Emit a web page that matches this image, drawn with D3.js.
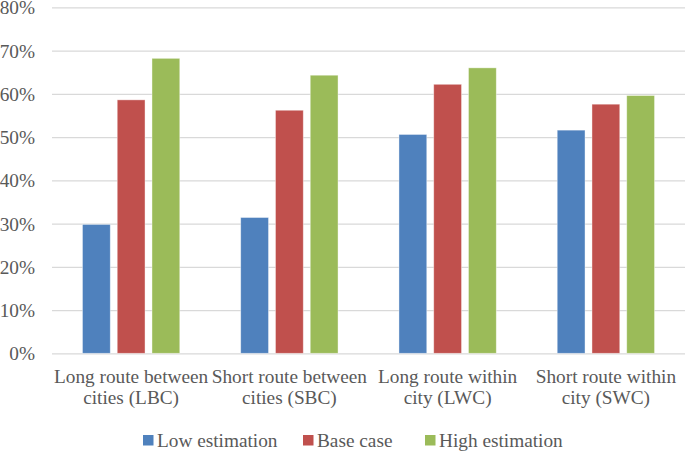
<!DOCTYPE html>
<html>
<head>
<meta charset="utf-8">
<script src="https://cdn.jsdelivr.net/npm/d3@7"></script>
<style>
  body { margin: 0; background: #fff; }
</style>
</head>
<body>
<div id="chart"></div>
<script>
// chart data
const categories = ['LBC', 'SBC', 'LWC', 'SWC'];
const categoryLines = [
  ['Long route between', 'cities (LBC)'],
  ['Short route between', 'cities (SBC)'],
  ['Long route within', 'city (LWC)'],
  ['Short route within', 'city (SWC)']
];
const seriesNames = ['Low estimation', 'Base case', 'High estimation'];
const lowValues = [0.298, 0.314, 0.506, 0.516];
const baseValues = [0.586, 0.562, 0.622, 0.576];
const highValues = [0.682, 0.643, 0.660, 0.596];
const yTicks = [0, 0.1, 0.2, 0.3, 0.4, 0.5, 0.6, 0.7, 0.8];
const colors = ['#4F81BD', '#C0504D', '#9BBB59'];

const width = 685, height = 451;
const margin = { top: 7.3, right: 0, bottom: 97.7, left: 52 };
const fontSize = '19.3px';

const svg = d3.select('#chart').append('svg')
  .attr('width', width)
  .attr('height', height);

const x = d3.scaleBand()
  .domain(categories)
  .range([margin.left, width - margin.right])
  .paddingInner(0.385)
  .paddingOuter(0.1925);

const xInner = d3.scaleBand()
  .domain(seriesNames)
  .range([0, x.bandwidth()])
  .paddingInner(0.2);

const y = d3.scaleLinear()
  .domain([0, 0.8])
  .range([height - margin.bottom, margin.top]);

// gridlines + y labels
const yAxis = d3.axisLeft(y)
  .tickValues(yTicks)
  .tickSize(-(width - margin.left - margin.right))
  .tickFormat(d3.format('.0%'));

const gy = svg.append('g')
  .attr('transform', `translate(${margin.left},0)`)
  .call(yAxis);
gy.select('.domain').remove();
gy.selectAll('.tick line').attr('stroke', '#d9d9d9').attr('stroke-width', 1.3);
gy.selectAll('.tick text')
  .attr('x', -17)
  .attr('dy', '0.34em')
  .attr('fill', '#595959')
  .style('font-family', 'Liberation Serif')
  .style('font-size', fontSize);

// bars
const allSeries = [lowValues, baseValues, highValues];
const rows = categories.map((c, i) => seriesNames.map((s, j) => ({ cat: c, series: s, value: allSeries[j][i], idx: j })));

const groups = svg.selectAll('g.group')
  .data(rows)
  .enter().append('g')
  .attr('class', 'group')
  .attr('transform', d => `translate(${x(d[0].cat)},0)`);

groups.selectAll('rect')
  .data(d => d)
  .enter().append('rect')
  .attr('x', d => xInner(d.series))
  .attr('width', xInner.bandwidth())
  .attr('y', d => y(d.value))
  .attr('height', d => y(0) - y(d.value))
  .attr('fill', d => colors[d.idx])
  .attr('stroke', '#ffffff')
  .attr('stroke-opacity', 0.5)
  .attr('stroke-width', 0.8);

// category labels
const xLabels = svg.selectAll('text.cat')
  .data(categories)
  .enter().append('text')
  .attr('class', 'cat')
  .attr('text-anchor', 'middle')
  .attr('fill', '#595959')
  .style('font-family', 'Liberation Serif')
  .style('font-size', fontSize)
  .attr('x', d => x(d) + x.bandwidth() / 2)
  .attr('y', 382.7);

xLabels.selectAll('tspan')
  .data((d, i) => categoryLines[i])
  .enter().append('tspan')
  .attr('x', function() { return d3.select(this.parentNode).attr('x'); })
  .attr('dy', (d, i) => i === 0 ? 0 : 21.5)
  .text(d => d);

// legend
const legendX = [143, 303, 425];
const legend = svg.selectAll('g.legend')
  .data(seriesNames)
  .enter().append('g')
  .attr('class', 'legend')
  .attr('transform', (d, i) => `translate(${legendX[i]},435)`);

legend.append('rect')
  .attr('width', 10.5)
  .attr('height', 10.5)
  .attr('fill', (d, i) => colors[i]);

legend.append('text')
  .attr('x', 14)
  .attr('y', 11.7)
  .attr('fill', '#595959')
  .style('font-family', 'Liberation Serif')
  .style('font-size', fontSize)
  .text(d => d);
</script>
</body>
</html>
